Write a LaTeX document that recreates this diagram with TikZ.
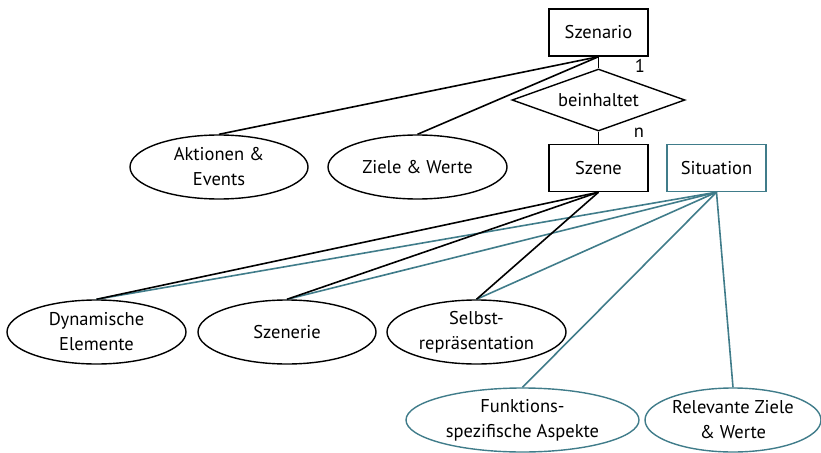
\documentclass[tikz,border=0pt]{standalone}
\usepackage{fontspec}
\setmainfont{PT Sans}
\usetikzlibrary{shapes.geometric}
\definecolor{teal1}{RGB}{64,124,138}
\tikzset{
  txt/.style={font=\fontsize{18.5}{25}\selectfont, align=center},
  entity/.style={draw=black, line width=1.4pt, minimum width=99pt, minimum height=47pt, inner sep=0pt, txt},
  tentity/.style={entity, draw=teal1},
  oval/.style={draw=black, ellipse, line width=1.4pt, minimum height=64pt, inner sep=0pt},
  toval/.style={oval, draw=teal1},
  rel/.style={draw=black, diamond, line width=1.4pt, minimum width=173pt, minimum height=62pt, inner sep=0pt},
  blk/.style={draw=black, line width=1.6pt},
  tl/.style={draw=teal1, line width=1.6pt},
  card/.style={txt, inner sep=0pt}
}
\begin{document}
\begin{tikzpicture}[x=1pt, y=-1pt]
\useasboundingbox (0,0) rectangle (821,452);

% entities and relationship
\node[entity] (scenario) at (598.5,32.5) {Szenario};
\node[rel, label={[txt]center:beinhaltet}] (contains) at (598.5,100) {};
\node[entity] (scene) at (598.5,168) {Szene};
\node[tentity] (situation) at (716.5,168) {Situation};

% attributes of the scenario
\node[oval, minimum width=178pt, label={[txt]center:Aktionen \&\\Events}] (actions) at (219,167) {};
\node[oval, minimum width=179pt, label={[txt]center:Ziele \& Werte}] (goals) at (417.5,167) {};

% attributes of the scene
\node[oval, minimum width=179pt, label={[txt]center:Dynamische\\Elemente}] (dynamic) at (96.5,332) {};
\node[oval, minimum width=178pt, label={[txt]center:Szenerie}] (scenery) at (287,332) {};
\node[oval, minimum width=179pt, label={[txt]center:Selbst-\\repräsentation}] (self) at (476.5,332) {};

% attributes only of the situation
\node[toval, minimum width=233pt, label={[txt]center:Funktions-\\spezifische Aspekte}] (function) at (522.5,420) {};
\node[toval, minimum width=176pt, label={[txt]center:Relevante Ziele\\\& Werte}] (relgoals) at (733,420) {};

% cardinalities
\node[card] (one) at (640,66) {1};
\node[card] (many) at (639,133) {n};

% relationship links
\draw[blk] (scenario.south) -- (contains.north);
\draw[blk] (contains.south) -- (scene.north);

% scenario attributes
\draw[blk] (scenario.south) -- (actions.north);
\draw[blk] (scenario.south) -- (goals.north);

% situation links
\draw[tl] (situation.south) -- (dynamic.north);
\draw[tl] (situation.south) -- (scenery.north);
\draw[tl] (situation.south) -- (self.north);
\draw[tl] (situation.south) -- (function.north);
\draw[tl] (situation.south) -- (relgoals.north);

% scene links
\draw[blk] (scene.south) -- (dynamic.north);
\draw[blk] (scene.south) -- (scenery.north);
\draw[blk] (scene.south) -- (self.north);
\end{tikzpicture}
\end{document}
